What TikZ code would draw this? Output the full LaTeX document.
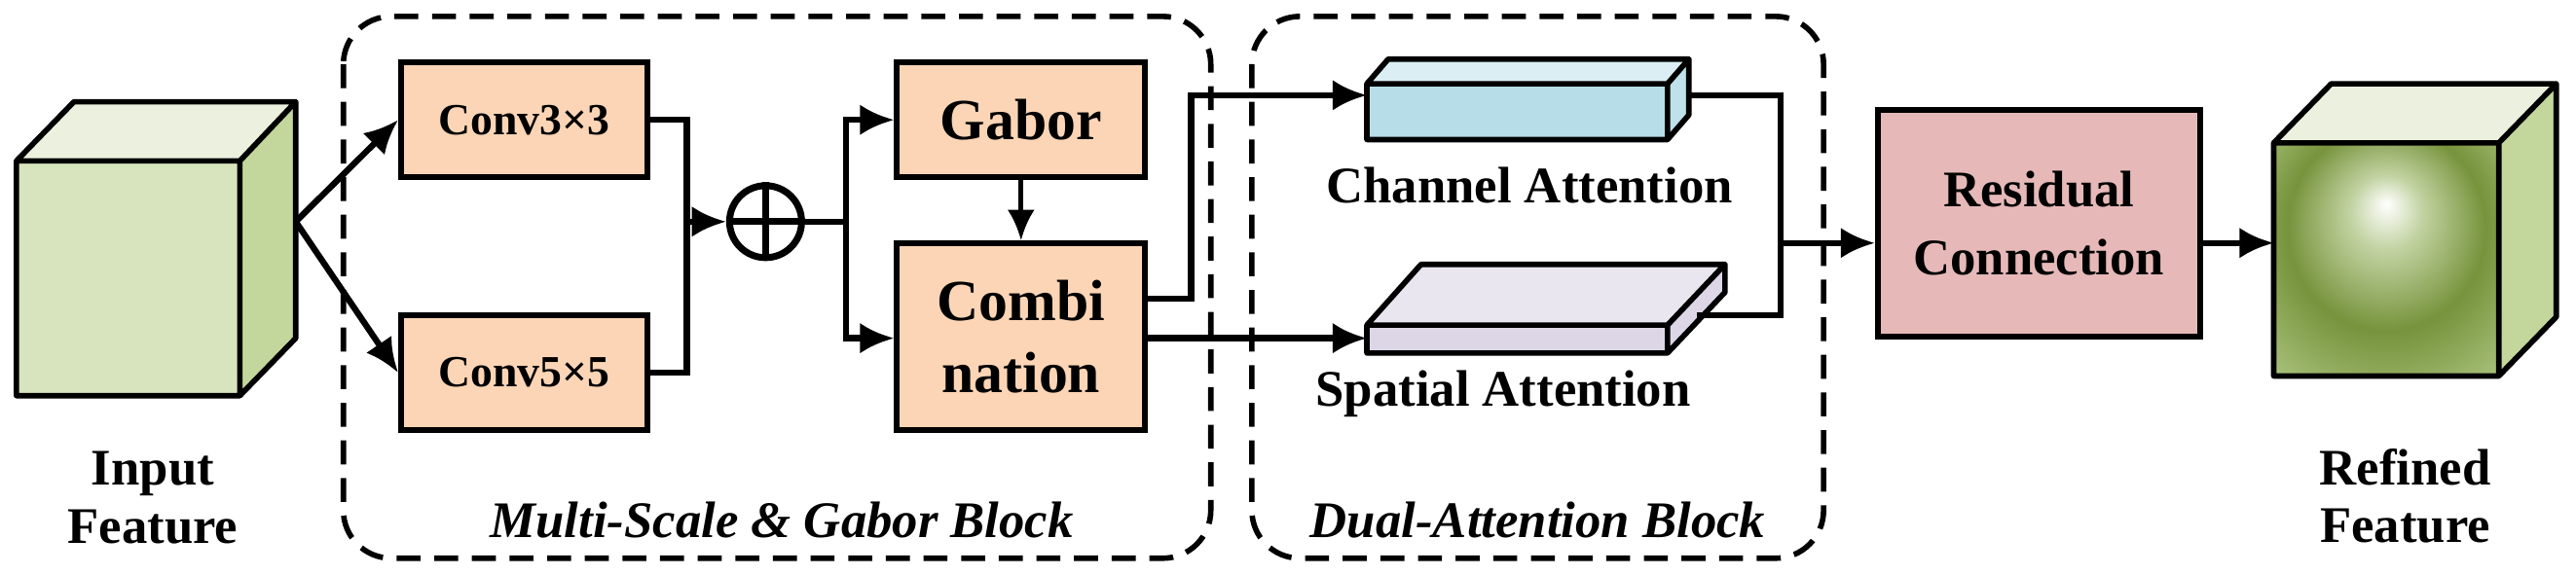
\documentclass[tikz,border=0pt]{standalone}
\usepackage{fontspec}
\setmainfont{Liberation Serif}
\usetikzlibrary{arrows.meta,shapes.geometric}
\definecolor{orangebox}{HTML}{FBD5B5}
\definecolor{cubefront}{HTML}{D7E4BD}
\definecolor{cubetop}{HTML}{EBF1DE}
\definecolor{cubeside}{HTML}{C3D69B}
\definecolor{chfront}{HTML}{B7DEE8}
\definecolor{chtop}{HTML}{DAEEF3}
\definecolor{spfront}{HTML}{DCD6E6}
\definecolor{sptop}{HTML}{E9E6F0}
\definecolor{resid}{HTML}{E6B9B8}
\definecolor{deepgreen}{HTML}{77933C}
\definecolor{glowmid}{HTML}{C2D3A2}
\definecolor{glowout}{HTML}{ABC37E}
\pgfdeclareradialshading{greenglow}{\pgfpoint{0bp}{12bp}}{color(0bp)=(white); color(8bp)=(glowmid); color(22bp)=(deepgreen); color(38bp)=(glowout); color(50bp)=(glowout)}
\begin{document}
\begin{tikzpicture}[x=0.016875cm,y=-0.016875cm,
  box/.style={draw,line width=1.6pt,fill=orangebox,font=\bfseries\fontsize{13}{15}\selectfont,align=center,inner sep=0pt},
  solid3d/.style={draw,line width=1.6pt,line join=round},
  conn/.style={line width=1.8pt},
  arr/.style={line width=1.8pt,-{Latex[length=10pt,width=9pt]}},
  lbl/.style={font=\bfseries\fontsize{15}{16}\selectfont,align=center},
  blk/.style={font=\bfseries\itshape\fontsize{15}{16}\selectfont},
  dashbox/.style={draw,line width=1.6pt,dash pattern=on 7pt off 4pt,rounded corners=14pt}]
\useasboundingbox (0,0) rectangle (1568,350);
% dashed blocks
\draw[dashbox] (209,10) rectangle (737,340);
\draw[dashbox] (762,10) rectangle (1110,340);
\node[blk] (lb1) at (476,317) {Multi-Scale \& Gabor Block};
\node[blk] (lb2) at (936,317) {Dual-Attention Block};
% input cube
\fill[cubetop] (10,98)--(45,62)--(180,62)--(146,98)--cycle;
\fill[cubeside] (146,98)--(180,62)--(180,206)--(146,241)--cycle;
\fill[cubefront] (10,98) rectangle (146,241);
\draw[solid3d] (10,98)--(45,62)--(180,62)--(146,98)--cycle (146,98)--(180,62)--(180,206)--(146,241) (10,98) rectangle (146,241);
\coordinate (inout) at (180,135);
\node[lbl] (inlbl) at (93,303) {Input\\[1pt]Feature};
% boxes
\node[box,minimum width=2.53cm,minimum height=1.18cm] (c3) at (319,73) {Conv3×3};
\node[box,minimum width=2.53cm,minimum height=1.18cm] (c5) at (319,227) {Conv5×5};
\node[box,font=\bfseries\fontsize{17}{19}\selectfont,minimum width=2.55cm,minimum height=1.18cm] (gab) at (621.5,73) {Gabor};
\node[box,font=\bfseries\fontsize{17}{21}\selectfont,minimum width=2.55cm,minimum height=1.92cm] (comb) at (621.5,205) {Combi\\nation};
\node[draw,circle,line width=2pt,minimum size=0.74cm,inner sep=0pt] (plus) at (466,135) {};
\draw[line width=2pt] (plus.north)--(plus.south) (plus.west)--(plus.east);
\draw[arr] (inout)--(c3.west);
\draw[arr] (inout)--(c5.west);
\coordinate (j1) at (418,135);
\draw[conn] (c3.east)-|(j1) (c5.east)-|(j1);
\draw[arr] (j1)--(plus.west);
\coordinate (j2) at (515,135);
\draw[conn] (plus.east)--(j2);
\draw[arr] (j2)|-(gab.west);
\draw[arr] (j2)|-(comb.west|-0,206);
\draw[line width=1.4pt,-{Latex[length=9pt,width=8pt]}] (gab.south)--(comb.north);
% channel attention
\fill[chtop] (832,51)--(845,36)--(1028,36)--(1015,51)--cycle;
\fill[chfront!80!chtop] (1015,51)--(1028,36)--(1028,70)--(1015,85)--cycle;
\fill[chfront] (832,51) rectangle (1015,85);
\draw[solid3d] (832,51)--(845,36)--(1028,36)--(1015,51)--cycle (1015,51)--(1028,36)--(1028,70)--(1015,85) (832,51) rectangle (1015,85);
\coordinate (chin) at (832,58);
\coordinate (chout) at (1028,58);
\node[lbl] (chl) at (931,113) {Channel Attention};
% spatial attention
\fill[sptop] (832,198)--(865,161)--(1050,161)--(1015,198)--cycle;
\fill[spfront] (1015,198)--(1050,161)--(1050,178)--(1015,215)--cycle;
\fill[spfront] (832,198) rectangle (1015,215);
\draw[solid3d] (832,198)--(865,161)--(1050,161)--(1015,198)--cycle (1015,198)--(1050,161)--(1050,178)--(1015,215) (832,198) rectangle (1015,215);
\coordinate (spin) at (832,206);
\coordinate (spout) at (1033,192);
\node[lbl] (spl) at (915,240) {Spatial Attention};
\draw[arr] (comb.east|-0,182)-|(725,58)--(chin);
\draw[arr] (comb.east|-0,206)--(spin);
% residual
\node[draw,line width=1.6pt,fill=resid,minimum width=3.31cm,minimum height=2.33cm,lbl,inner sep=0pt] (res) at (1241,136) {Residual\\[4pt]Connection};
\coordinate (j3) at (1084,148);
\draw[conn] (chout)-|(j3) (spout)-|(j3);
\draw[arr] (j3)--(res.west|-j3);
% refined cube
\fill[cubetop] (1384,87)--(1419,51)--(1556,51)--(1521,87)--cycle;
\fill[cubeside] (1521,87)--(1556,51)--(1556,193)--(1521,229)--cycle;
\shade[shading=greenglow] (1384,87) rectangle (1521,229);
\draw[solid3d] (1384,87)--(1419,51)--(1556,51)--(1521,87)--cycle (1521,87)--(1556,51)--(1556,193)--(1521,229) (1384,87) rectangle (1521,229);
\coordinate (refin) at (1384,148);
\draw[arr] (res.east|-refin)--(refin);
\node[lbl] (reflbl) at (1464,302) {Refined\\[1pt]Feature};
\end{tikzpicture}
\end{document}
